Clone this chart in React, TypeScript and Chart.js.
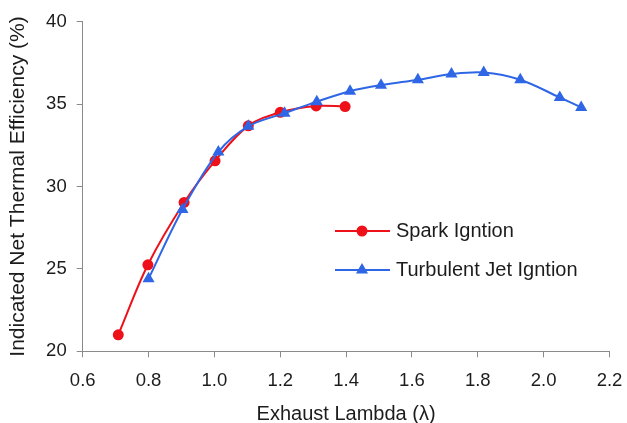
import { useEffect, useRef } from 'react';
import { Chart, registerables } from 'chart.js';

Chart.register(...registerables);

// ---- data ----
const sparkLambda = [0.708, 0.798, 0.908, 1.002, 1.103, 1.2, 1.309, 1.397];
const sparkEff = [21.0, 25.25, 29.03, 31.56, 33.68, 34.5, 34.89, 34.85];

const jetLambda = [0.8, 0.903, 1.012, 1.103, 1.213, 1.311, 1.412, 1.506, 1.618, 1.72, 1.818, 1.929, 2.049, 2.114];
const jetEff = [24.4, 28.6, 32.1, 33.65, 34.45, 35.15, 35.78, 36.15, 36.48, 36.82, 36.92, 36.48, 35.4, 34.8];

const seriesLabels = ['Spark Igntion', 'Turbulent Jet Igntion'];
const xTitle = 'Exhaust Lambda (\u03bb)';
const yTitle = 'Indicated Net Thermal Efficiency (%)';
const xRange = [0.6, 2.2];
const yRange = [20, 40];
const xStep = 0.2;
const yStep = 5;

const FONT = "'Liberation Sans', Arial, sans-serif";
const TEXT = '#1c1c1c';
const AXIS = '#8a8a8a';
const RED = '#ee1119';
const BLUE = '#2f66e6';

const legendPlugin = {
  id: 'insideLegend',
  afterDraw(chart: any) {
    const ctx = chart.ctx as CanvasRenderingContext2D;
    const rows = [231, 270];
    chart.data.datasets.forEach((ds: any, i: number) => {
      const y = rows[i];
      ctx.save();
      ctx.strokeStyle = ds.borderColor;
      ctx.lineWidth = 2;
      ctx.beginPath();
      ctx.moveTo(335, y);
      ctx.lineTo(390, y);
      ctx.stroke();
      ctx.fillStyle = ds.pointBackgroundColor;
      const cx = 362;
      if (ds.pointStyle === 'triangle') {
        const r = ds.pointRadius;
        ctx.beginPath();
        ctx.moveTo(cx, y - r);
        ctx.lineTo(cx + r * Math.sin(Math.PI / 3), y + r / 2);
        ctx.lineTo(cx - r * Math.sin(Math.PI / 3), y + r / 2);
        ctx.closePath();
        ctx.fill();
      } else {
        ctx.beginPath();
        ctx.arc(cx, y, ds.pointRadius, 0, Math.PI * 2);
        ctx.fill();
      }
      ctx.font = `20px ${FONT}`;
      ctx.fillStyle = TEXT;
      ctx.textBaseline = 'middle';
      ctx.textAlign = 'left';
      ctx.fillText(ds.label, 396, y);
      ctx.restore();
    });
  },
};

export default function App() {
  const ref = useRef<HTMLCanvasElement | null>(null);

  useEffect(() => {
    document.body.style.margin = '0';
    if (!ref.current) return;
    const chart = new Chart(ref.current, {
      type: 'line',
      data: {
        datasets: [
          {
            label: seriesLabels[0],
            data: sparkLambda.map((x, i) => ({ x, y: sparkEff[i] })),
            borderColor: RED,
            backgroundColor: RED,
            pointBackgroundColor: RED,
            pointBorderColor: RED,
            pointBorderWidth: 0,
            pointStyle: 'circle',
            pointRadius: 5.5,
            borderWidth: 2,
            tension: 0.35,
            order: 1,
          },
          {
            label: seriesLabels[1],
            data: jetLambda.map((x, i) => ({ x, y: jetEff[i] })),
            borderColor: BLUE,
            backgroundColor: BLUE,
            pointBackgroundColor: BLUE,
            pointBorderColor: BLUE,
            pointBorderWidth: 0,
            pointStyle: 'triangle',
            pointRadius: 7,
            borderWidth: 2,
            tension: 0.35,
            order: 0,
          },
        ],
      },
      options: {
        animation: false,
        responsive: false,
        maintainAspectRatio: false,
        layout: { padding: { top: 21.7, right: 17.5, bottom: 0, left: 0 } },
        plugins: {
          legend: { display: false },
          tooltip: { enabled: false },
        },
        scales: {
          x: {
            type: 'linear',
            min: xRange[0],
            max: xRange[1],
            ticks: {
              stepSize: xStep,
              callback: (v: any) => Number(v).toFixed(1),
              font: { size: 18.5, family: FONT },
              color: TEXT,
              padding: 13,
              maxRotation: 0,
            },
            grid: { drawOnChartArea: false, drawTicks: true, tickLength: 6, color: AXIS },
            border: { color: AXIS, width: 1 },
            title: {
              display: true,
              text: xTitle,
              font: { size: 20, family: FONT, lineHeight: 1 },
              color: TEXT,
              padding: { top: 0, bottom: -1 },
            },
            afterFit: (s: any) => {
              s.height = 71.7;
              s.paddingLeft = 0;
              s.paddingRight = 0;
            },
          },
          y: {
            type: 'linear',
            min: yRange[0],
            max: yRange[1],
            ticks: {
              stepSize: yStep,
              font: { size: 18.5, family: FONT },
              color: TEXT,
              padding: 10,
            },
            grid: { drawOnChartArea: false, drawTicks: true, tickLength: 6, color: AXIS },
            border: { color: AXIS, width: 1 },
            title: {
              display: true,
              text: yTitle,
              font: { size: 21, family: FONT, lineHeight: 1 },
              color: TEXT,
              padding: { top: 7.5, bottom: 0 },
            },
            afterFit: (s: any) => {
              s.width = 82.7;
              s.paddingTop = 0;
              s.paddingBottom = 0;
            },
          },
        },
      },
      plugins: [legendPlugin],
    } as any);
    return () => chart.destroy();
  }, []);

  return (
    <div style={{ width: 627, height: 423 }}>
      <canvas ref={ref} width={627} height={423} style={{ display: 'block' }} />
    </div>
  );
}
